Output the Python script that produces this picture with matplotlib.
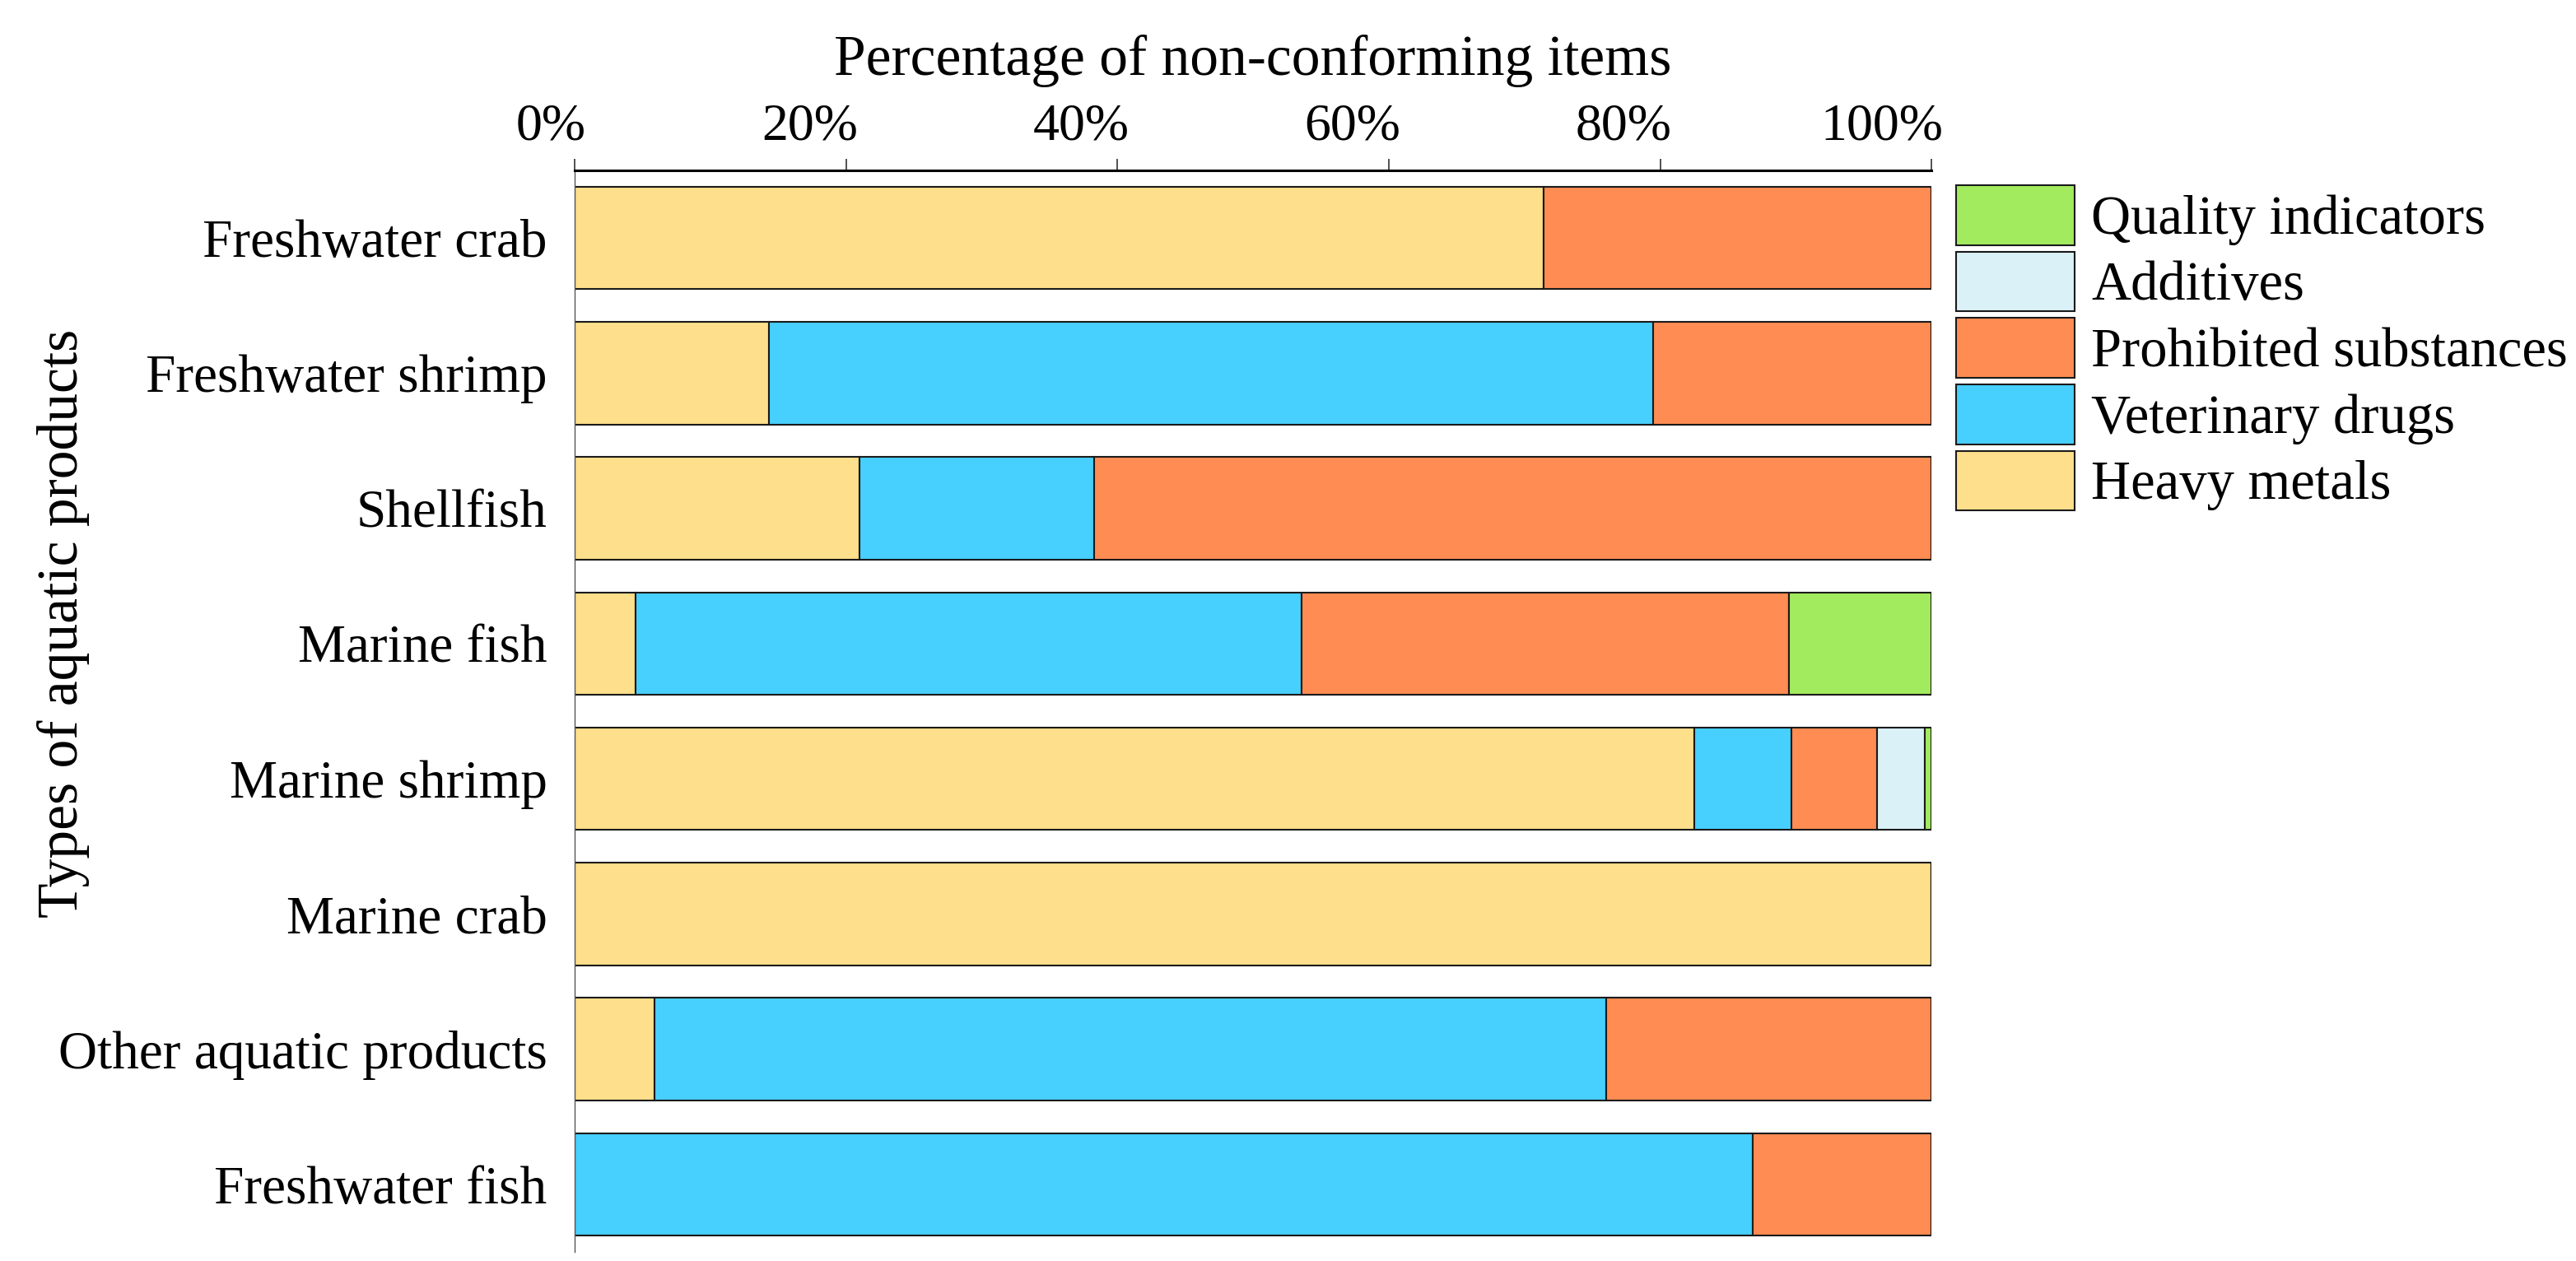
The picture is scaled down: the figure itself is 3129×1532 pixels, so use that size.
import matplotlib
matplotlib.use("Agg")
import matplotlib.pyplot as plt
import numpy as np
from matplotlib.ticker import PercentFormatter
from matplotlib.transforms import ScaledTranslation

categories = ['Freshwater crab', 'Freshwater shrimp', 'Shellfish', 'Marine fish',
              'Marine shrimp', 'Marine crab', 'Other aquatic products', 'Freshwater fish']
heavy_metals = [71.4, 14.3, 21.0, 4.5, 82.5, 100.0, 5.9, 0.0]
veterinary = [0.0, 65.2, 17.3, 49.1, 7.2, 0.0, 70.1, 86.8]
prohibited = [28.6, 20.5, 61.7, 35.9, 6.3, 0.0, 24.0, 13.2]
additives = [0.0, 0.0, 0.0, 0.0, 3.5, 0.0, 0.0, 0.0]
quality = [0.0, 0.0, 0.0, 10.5, 0.5, 0.0, 0.0, 0.0]

series = [('Heavy metals', heavy_metals, '#FEDF8B'),
          ('Veterinary drugs', veterinary, '#47CFFD'),
          ('Prohibited substances', prohibited, '#FF8C53'),
          ('Additives', additives, '#DAF1F7'),
          ('Quality indicators', quality, '#A2EB5E')]

plt.rcParams['font.family'] = ['Liberation Serif', 'DejaVu Serif']

fig = plt.figure(figsize=(31.29, 15.32), dpi=100)
ax = fig.add_axes([0.2231, 0.0072, 0.5267, 0.8577])

y = np.arange(len(categories))
left = np.zeros(len(categories))
for name, vals, col in series:
    vals = np.array(vals)
    ax.barh(y, vals, left=left, height=0.757, color=col, edgecolor='#1a1a1a',
            linewidth=1.5, label=name)
    left += vals

ax.set_xlim(0, 100)
ax.set_ylim(7.5, -0.5)
ax.set_yticks(y)
ax.set_yticklabels(categories, fontsize=47)
ax.tick_params(axis='y', length=0, pad=24)

ax.xaxis.tick_top()
ax.xaxis.set_label_position('top')
ax.set_xticks([0, 20, 40, 60, 80, 100])
ax.xaxis.set_major_formatter(PercentFormatter(xmax=100, decimals=0))
ax.tick_params(axis='x', length=10, width=1.2, pad=7, labelsize=46, color='#333333')
off = ScaledTranslation(0.14, 0, fig.dpi_scale_trans)
for lab in ax.get_xticklabels():
    lab.set_horizontalalignment('right')
    lab.set_transform(lab.get_transform() + off)
ax.set_xlabel('Percentage of non-conforming items', fontsize=50, labelpad=25)

for s in ['right', 'bottom']:
    ax.spines[s].set_visible(False)
ax.spines['top'].set_linewidth(2.2)
ax.spines['left'].set_linewidth(1.0)
ax.spines['left'].set_color('#555555')

fig.text(77 / 3129, 1 - 757 / 1532, 'Types of aquatic products', rotation=90,
         ha='center', va='center', fontsize=50)

h, l = ax.get_legend_handles_labels()
ax.legend(h[::-1], l[::-1], loc='upper left', bbox_to_anchor=(2376 / 3129, 1 - 225 / 1532),
          bbox_transform=fig.transFigure, frameon=False, fontsize=48, borderpad=0,
          borderaxespad=0, handlelength=2.16, handleheight=1.3, labelspacing=0.12,
          handletextpad=0.3)

fig.savefig('out.png', dpi=100)
